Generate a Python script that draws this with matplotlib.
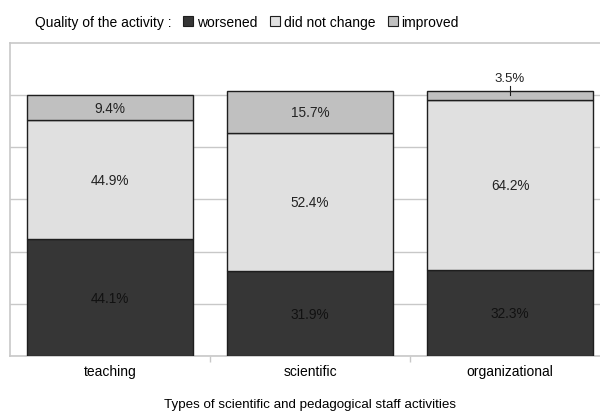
import matplotlib
matplotlib.use("Agg")
import matplotlib.pyplot as plt
from matplotlib.patches import Patch
from matplotlib import font_manager as fm
import numpy as np

categories = ["teaching", "scientific", "organizational"]
worsened = [44.1, 31.9, 32.3]
no_change = [44.9, 52.4, 64.2]
improved = [9.4, 15.7, 3.5]
series_names = ["worsened", "did not change", "improved"]
colors = ["#363636", "#e0e0e0", "#c0c0c0"]

names = {f.name for f in fm.fontManager.ttflist}
fam = ["Liberation Sans Narrow"] if "Liberation Sans Narrow" in names else ["Liberation Sans"]
plt.rcParams["font.family"] = fam + ["DejaVu Sans"]

fig = plt.figure(figsize=(6.0, 4.14), dpi=100)
ax = fig.add_axes([10/600, (414-357)/414, 600/600, (357-43.5)/414])

x = np.arange(len(categories))
w = 0.83
bottom = np.zeros(len(categories))
for vals, c in zip([worsened, no_change, improved], colors):
    ax.bar(x, vals, w, bottom=bottom, color=c, edgecolor="#1e1e1e", linewidth=1.0, zorder=3)
    bottom = bottom + np.array(vals)

# labels
b = np.zeros(len(categories))
for vals, c in zip([worsened, no_change, improved], colors):
    for i, v in enumerate(vals):
        txt = f"{v:.1f}%"
        if v < 5:
            top = b[i] + v
            ax.plot([x[i], x[i]], [top - 1.5, top + 2.0], color="#1e1e1e", lw=0.8, zorder=4, clip_on=False)
            ax.text(x[i], top + 2.6, txt, ha="center", va="bottom", fontsize=9.5, color="#222222")
        else:
            ax.text(x[i], b[i] + v / 2, txt, ha="center", va="center", fontsize=9.8,
                    color="#111111" if c == colors[0] else "#222222", zorder=5)
    b = b + np.array(vals)

ax.set_xlim(-0.5, 2.5)
ax.set_ylim(0, 118.3)
ax.set_yticks(np.arange(0, 118, 19.7))
ax.set_yticklabels([])
ax.tick_params(axis="y", length=0)
ax.yaxis.grid(True, color="#c8c8c8", linewidth=1.0, zorder=0)
ax.set_xticks(x)
ax.set_xticklabels(categories, fontsize=10)
ax.tick_params(axis="x", length=0, pad=6)
ax.set_xticks([0.5, 1.5], minor=True)
ax.tick_params(axis="x", which="minor", length=4, color="#c8c8c8", width=1)
for s in ax.spines.values():
    s.set_color("#c8c8c8")
    s.set_linewidth(1.2)
ax.set_xlabel("Types of scientific and pedagogical staff activities", fontsize=9.6, labelpad=14)

fig.text(35/600, 1 - 23/414, "Quality of the activity :", fontsize=10, va="center", ha="left")
handles = [Patch(facecolor=c, edgecolor="#1e1e1e", linewidth=0.8) for c in colors]
fig.legend(handles, series_names, loc="center left", bbox_to_anchor=(183/600, 1 - 23/414),
           ncol=3, frameon=False, fontsize=10, handlelength=0.75, handleheight=0.75,
           handletextpad=0.25, columnspacing=0.9, borderpad=0, borderaxespad=0)

fig.savefig("out.png", dpi=100)
